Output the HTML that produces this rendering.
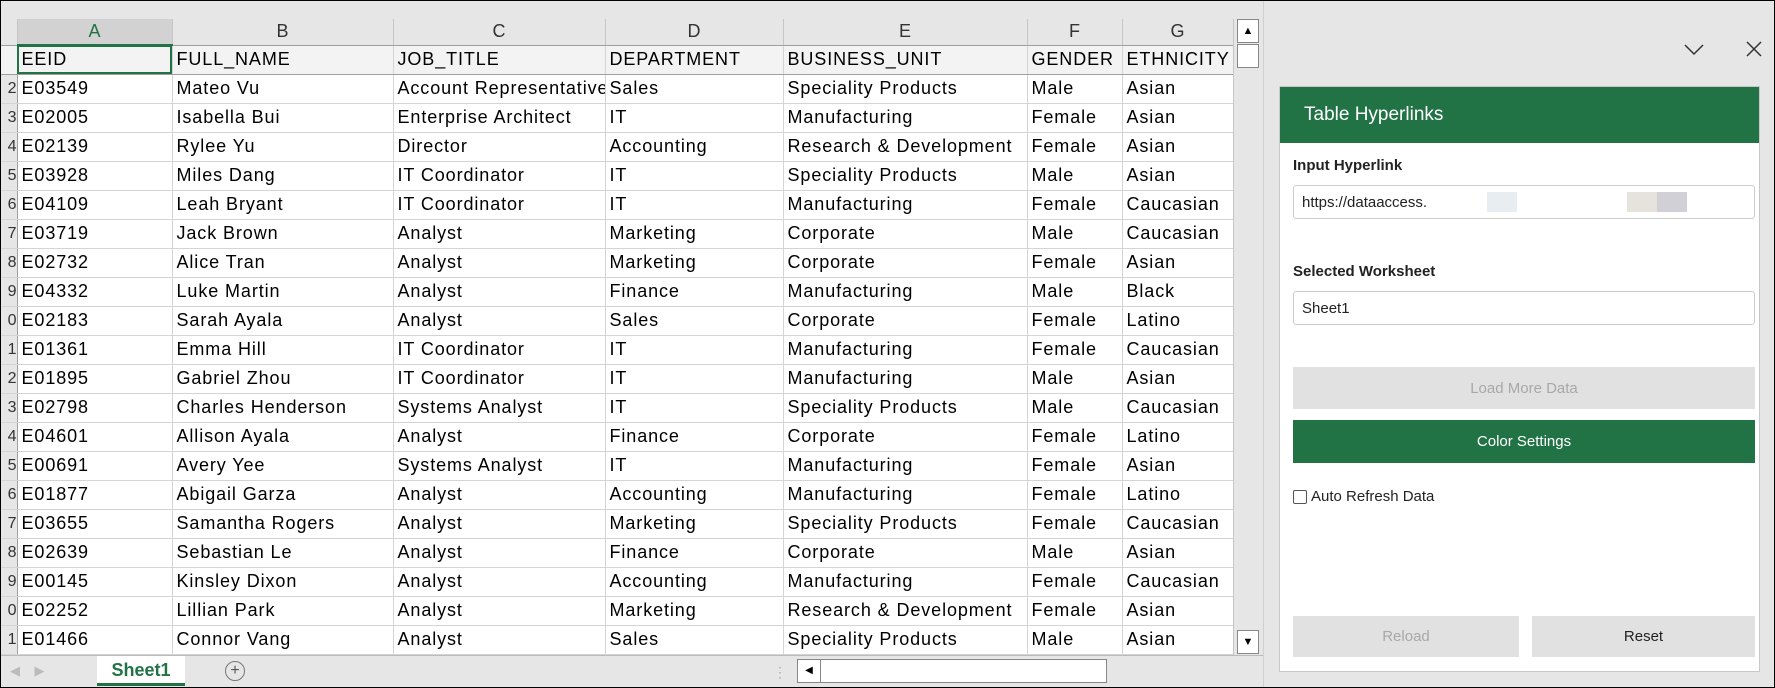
<!DOCTYPE html>
<html><head><meta charset="utf-8"><style>
*{box-sizing:border-box;margin:0;padding:0}
body{width:1775px;height:688px;position:relative;overflow:hidden;background:#e6e6e6;font-family:"Liberation Sans",sans-serif;}
#frame{position:absolute;left:0;top:0;width:1775px;height:688px;border:1px solid #000;z-index:50;pointer-events:none}
#grid{position:absolute;left:0;top:19px;width:1233px;border-collapse:collapse;table-layout:fixed;font-size:18px;letter-spacing:0.9px}
#grid td{height:29px;border-right:1px solid #d4d4d4;border-bottom:1px solid #d4d4d4;background:#fff;padding-left:4px;white-space:nowrap;overflow:hidden;color:#000}
#grid tr.hd td{height:26px;background:#e6e6e6;text-align:center;color:#333;border-right:1px solid #c6c6c6;border-bottom:1px solid #9f9f9f;padding:0;letter-spacing:0}
#grid tr.h1 td{background:#f3f3f3;border-bottom:1px solid #9f9f9f}
#grid td.rn{background:#e6e6e6;border-right:1px solid #9f9f9f;padding:0;font-size:16px;color:#333;text-align:right;letter-spacing:0;overflow:hidden}
#topstrip{position:absolute;left:0;top:0;width:1263px;height:19px;background:#e6e6e6}
#vs{position:absolute;left:1233px;top:19px;width:27px;height:636px;background:#e6e6e6;border-left:1px solid #c6c6c6}
.sb{position:absolute;left:3px;width:22px;background:#fff;border:1px solid #888}
#tabs{position:absolute;left:0;top:655px;width:1263px;height:33px;background:#e6e6e6;border-top:1px solid #bbb}
#panel{position:absolute;left:1279px;top:86px;width:481px;height:586px;background:#fff;border:1px solid #c8c8c8}
.lbl{position:absolute;left:13px;font-size:15px;font-weight:bold;color:#222}
.inp{position:absolute;left:13px;width:462px;border:1px solid #ccc;border-radius:3px;font-size:15px;padding-left:8px;display:flex;align-items:center;color:#222}
.btn{position:absolute;display:flex;align-items:center;justify-content:center;font-size:15px}
</style></head><body>
<div id="topstrip"></div>
<table id="grid">
<colgroup><col style="width:17px"><col style="width:155px"><col style="width:221px"><col style="width:212px"><col style="width:178px"><col style="width:244px"><col style="width:95px"><col style="width:111px"></colgroup>
<tr class="hd"><td class="rn" style="border-bottom:1px solid #9f9f9f"></td><td style="background:#d2d2d2;color:#217346;border-bottom:2px solid #217346">A</td><td>B</td><td>C</td><td>D</td><td>E</td><td>F</td><td>G</td></tr>
<tr class="h1"><td class="rn"></td><td style="outline:2px solid #217346;outline-offset:-2px">EEID</td><td>FULL_NAME</td><td>JOB_TITLE</td><td>DEPARTMENT</td><td>BUSINESS_UNIT</td><td>GENDER</td><td>ETHNICITY 4</td></tr>
<tr><td class="rn">2</td><td>E03549</td><td>Mateo Vu</td><td>Account Representative</td><td>Sales</td><td>Speciality Products</td><td>Male</td><td>Asian</td></tr>
<tr><td class="rn">3</td><td>E02005</td><td>Isabella Bui</td><td>Enterprise Architect</td><td>IT</td><td>Manufacturing</td><td>Female</td><td>Asian</td></tr>
<tr><td class="rn">4</td><td>E02139</td><td>Rylee Yu</td><td>Director</td><td>Accounting</td><td>Research &amp; Development</td><td>Female</td><td>Asian</td></tr>
<tr><td class="rn">5</td><td>E03928</td><td>Miles Dang</td><td>IT Coordinator</td><td>IT</td><td>Speciality Products</td><td>Male</td><td>Asian</td></tr>
<tr><td class="rn">6</td><td>E04109</td><td>Leah Bryant</td><td>IT Coordinator</td><td>IT</td><td>Manufacturing</td><td>Female</td><td>Caucasian</td></tr>
<tr><td class="rn">7</td><td>E03719</td><td>Jack Brown</td><td>Analyst</td><td>Marketing</td><td>Corporate</td><td>Male</td><td>Caucasian</td></tr>
<tr><td class="rn">8</td><td>E02732</td><td>Alice Tran</td><td>Analyst</td><td>Marketing</td><td>Corporate</td><td>Female</td><td>Asian</td></tr>
<tr><td class="rn">9</td><td>E04332</td><td>Luke Martin</td><td>Analyst</td><td>Finance</td><td>Manufacturing</td><td>Male</td><td>Black</td></tr>
<tr><td class="rn">0</td><td>E02183</td><td>Sarah Ayala</td><td>Analyst</td><td>Sales</td><td>Corporate</td><td>Female</td><td>Latino</td></tr>
<tr><td class="rn">1</td><td>E01361</td><td>Emma Hill</td><td>IT Coordinator</td><td>IT</td><td>Manufacturing</td><td>Female</td><td>Caucasian</td></tr>
<tr><td class="rn">2</td><td>E01895</td><td>Gabriel Zhou</td><td>IT Coordinator</td><td>IT</td><td>Manufacturing</td><td>Male</td><td>Asian</td></tr>
<tr><td class="rn">3</td><td>E02798</td><td>Charles Henderson</td><td>Systems Analyst</td><td>IT</td><td>Speciality Products</td><td>Male</td><td>Caucasian</td></tr>
<tr><td class="rn">4</td><td>E04601</td><td>Allison Ayala</td><td>Analyst</td><td>Finance</td><td>Corporate</td><td>Female</td><td>Latino</td></tr>
<tr><td class="rn">5</td><td>E00691</td><td>Avery Yee</td><td>Systems Analyst</td><td>IT</td><td>Manufacturing</td><td>Female</td><td>Asian</td></tr>
<tr><td class="rn">6</td><td>E01877</td><td>Abigail Garza</td><td>Analyst</td><td>Accounting</td><td>Manufacturing</td><td>Female</td><td>Latino</td></tr>
<tr><td class="rn">7</td><td>E03655</td><td>Samantha Rogers</td><td>Analyst</td><td>Marketing</td><td>Speciality Products</td><td>Female</td><td>Caucasian</td></tr>
<tr><td class="rn">8</td><td>E02639</td><td>Sebastian Le</td><td>Analyst</td><td>Finance</td><td>Corporate</td><td>Male</td><td>Asian</td></tr>
<tr><td class="rn">9</td><td>E00145</td><td>Kinsley Dixon</td><td>Analyst</td><td>Accounting</td><td>Manufacturing</td><td>Female</td><td>Caucasian</td></tr>
<tr><td class="rn">0</td><td>E02252</td><td>Lillian Park</td><td>Analyst</td><td>Marketing</td><td>Research &amp; Development</td><td>Female</td><td>Asian</td></tr>
<tr><td class="rn">1</td><td>E01466</td><td>Connor Vang</td><td>Analyst</td><td>Sales</td><td>Speciality Products</td><td>Male</td><td>Asian</td></tr>
</table>
<div id="vs">
<div class="sb" style="top:0;height:24px;text-align:center;font-size:11px;line-height:22px">▲</div>
<div class="sb" style="top:25px;height:24px"></div>
<div class="sb" style="top:611px;height:24px;text-align:center;font-size:11px;line-height:22px">▼</div>
</div>
<div id="tabs">
<div style="position:absolute;left:10px;top:7px;color:#bbb;font-size:13px">◀&nbsp;&nbsp;&nbsp;&nbsp;▶</div>
<div style="position:absolute;left:97px;top:0;width:88px;height:30px;background:#fff;border-bottom:3px solid #217346;color:#217346;font-weight:bold;font-size:18px;text-align:center;line-height:28px">Sheet1</div>
<div style="position:absolute;left:225px;top:5px;width:20px;height:20px;border:1px solid #777;border-radius:50%;text-align:center;line-height:18px;color:#555;font-size:16px">+</div>
<div style="position:absolute;left:773px;top:8px;color:#aaa;font-size:14px">⋮</div>
<div style="position:absolute;left:797px;top:3px;width:310px;height:24px;background:#fff;border:1px solid #888"><div style="position:absolute;left:0;top:0;width:23px;height:22px;border-right:1px solid #888;font-size:10px;text-align:center;line-height:22px">◀</div></div>
</div>
<div style="position:absolute;left:1263px;top:0;width:1px;height:688px;background:#d0d0d0"></div>
<svg style="position:absolute;left:1683px;top:40px" width="90" height="20"><polyline points="2,5 11,14 20,5" fill="none" stroke="#333" stroke-width="1.5"/><path d="M64,2 L78,16 M78,2 L64,16" stroke="#333" stroke-width="1.5"/></svg>
<div id="panel">
<div style="position:absolute;left:0;top:0;width:479px;height:56px;background:#217346;color:#fff;font-size:19px;padding-left:24px;line-height:56px">Table Hyperlinks</div>
<div class="lbl" style="top:70px">Input Hyperlink</div>
<div class="inp" style="top:98px;height:34px">https://dataaccess.<span style="display:inline-block;width:60px"></span><span style="display:inline-block;width:30px;height:20px;background:#e8edf1"></span><span style="display:inline-block;width:110px"></span><span style="display:inline-block;width:30px;height:20px;background:#e6e3dd"></span><span style="display:inline-block;width:30px;height:20px;background:#d0d0d6"></span></div>
<div class="lbl" style="top:176px">Selected Worksheet</div>
<div class="inp" style="top:204px;height:34px">Sheet1</div>
<div class="btn" style="left:13px;top:280px;width:462px;height:42px;background:#e1e1e1;color:#a8a8a8">Load More Data</div>
<div class="btn" style="left:13px;top:333px;width:462px;height:43px;background:#217346;color:#fff">Color Settings</div>
<div style="position:absolute;left:13px;top:401px;font-size:15px;color:#222;display:flex;align-items:center"><span style="display:inline-block;width:14px;height:14px;border:1px solid #555;border-radius:2px;margin-right:4px"></span>Auto Refresh Data</div>
<div class="btn" style="left:13px;top:529px;width:226px;height:41px;background:#e1e1e1;color:#a8a8a8">Reload</div>
<div class="btn" style="left:252px;top:529px;width:223px;height:41px;background:#e1e1e1;color:#222">Reset</div>
</div>
<div id="frame"></div>
</body></html>
